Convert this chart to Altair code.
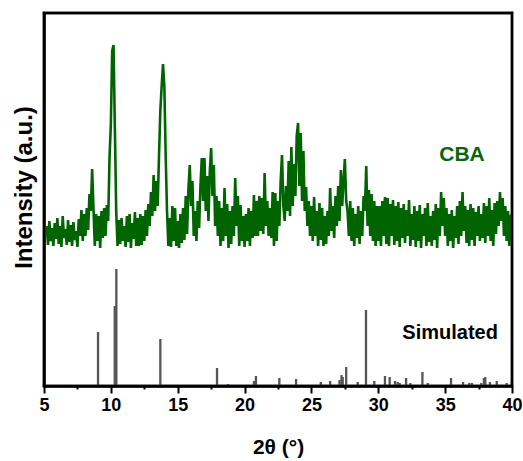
import altair as alt
import pandas as pd

# ---- CBA measured pattern: intensity every 0.1 deg, rows of 1 deg (5.0 ... 40.0)
r05 = [172, 150, 160, 141, 165, 145, 158, 140, 163, 147]
r06 = [168, 142, 160, 139, 170, 148, 157, 141, 166, 144]
r07 = [161, 140, 164, 146, 155, 139, 167, 150, 176, 145]
r08 = [172, 150, 178, 156, 192, 175, 217, 178, 140, 172]
r09 = [145, 170, 138, 175, 148, 178, 150, 181, 165, 228]
r10 = [262, 335, 341, 258, 175, 140, 166, 142, 168, 145]
r11 = [160, 139, 170, 144, 172, 138, 163, 147, 174, 140]
r12 = [168, 140, 172, 141, 170, 145, 176, 150, 182, 160]
r13 = [194, 170, 211, 175, 205, 180, 230, 275, 300, 322]
r14 = [300, 230, 175, 140, 168, 139, 180, 145, 178, 140]
r15 = [165, 138, 172, 143, 178, 146, 190, 152, 197, 221]
r16 = [180, 205, 150, 175, 145, 185, 158, 200, 228, 185]
r17 = [228, 175, 210, 165, 215, 238, 190, 221, 160, 190]
r18 = [150, 185, 140, 178, 145, 198, 150, 182, 138, 175]
r19 = [142, 180, 150, 208, 160, 190, 140, 181, 145, 170]
r20 = [139, 172, 145, 178, 140, 175, 148, 191, 150, 185]
r21 = [150, 190, 155, 188, 152, 213, 160, 185, 150, 178]
r22 = [148, 194, 140, 193, 145, 185, 160, 205, 231, 180]
r23 = [165, 200, 175, 225, 170, 239, 180, 222, 190, 250]
r24 = [263, 200, 253, 185, 235, 175, 199, 160, 185, 150]
r25 = [180, 145, 189, 150, 175, 140, 183, 146, 178, 140]
r26 = [170, 142, 175, 150, 198, 155, 180, 148, 190, 160]
r27 = [200, 165, 216, 180, 205, 227, 185, 175, 150, 185]
r28 = [145, 178, 140, 172, 148, 180, 142, 175, 150, 190]
r29 = [175, 220, 160, 196, 150, 192, 145, 185, 140, 180]
r30 = [145, 180, 140, 185, 150, 189, 142, 188, 140, 182]
r31 = [150, 186, 141, 180, 145, 184, 139, 178, 148, 182]
r32 = [143, 176, 150, 186, 140, 172, 146, 180, 139, 175]
r33 = [145, 181, 138, 172, 150, 178, 140, 183, 144, 170]
r34 = [140, 175, 146, 182, 138, 178, 150, 194, 160, 188]
r35 = [150, 178, 140, 172, 145, 176, 138, 170, 148, 180]
r36 = [142, 185, 150, 194, 155, 180, 143, 176, 140, 182]
r37 = [146, 178, 140, 174, 150, 180, 145, 172, 148, 183]
r38 = [143, 180, 150, 188, 145, 176, 140, 183, 152, 185]
r39 = [160, 194, 165, 188, 150, 180, 145, 175, 140, 170]
r40 = [171]

cba_rows = [r05, r06, r07, r08, r09, r10, r11, r12, r13, r14, r15, r16, r17, r18,
            r19, r20, r21, r22, r23, r24, r25, r26, r27, r28, r29, r30, r31, r32,
            r33, r34, r35, r36, r37, r38, r39, r40]
cba_int = [v for row in cba_rows for v in row]
cba_theta = [round(5 + 0.1 * i, 1) for i in range(len(cba_int))]

# ---- Simulated stick pattern
sim_theta = [9.04, 10.29, 10.41, 13.70, 17.94, 18.76, 20.70, 20.85, 22.60, 23.85,
             25.70, 26.40, 27.10, 27.25, 27.34, 27.60, 28.46, 29.08, 29.70, 30.50,
             30.85, 31.25, 31.45, 31.60, 32.08, 32.40, 33.30, 33.70, 35.44, 36.34,
             36.80, 37.00, 37.70, 37.90, 38.00, 38.35, 38.86, 39.60]
sim_int = [54, 80, 117, 47, 18, 2, 5, 10, 8, 7,
           4, 5, 6, 11, 9, 19, 4, 76, 5, 10,
           9, 5, 4, 3, 8, 3, 14, 3, 8, 4,
           3, 3, 3, 8, 9, 4, 5, 3]

major_ticks = [5, 10, 15, 20, 25, 30, 35, 40]
minor_ticks = [7.5, 12.5, 17.5, 22.5, 27.5, 32.5, 37.5]
x_domain = [5, 40]
y_domain = [0, 373]

# frame bands (top, bottom, left, right), as thin filled boxes along the domain limits
frame_x = [4.91, 4.91, 4.91, 39.91]
frame_x2 = [40.09, 40.09, 5.09, 40.09]
frame_y = [371.8, -1.2, -1.2, -1.2]
frame_y2 = [374.2, 1.2, 374.2, 374.2]

df_cba = pd.DataFrame({"theta": cba_theta, "intensity": cba_int})
df_sim = pd.DataFrame({"theta": sim_theta, "intensity": sim_int})
df_frame = pd.DataFrame({"x": frame_x, "x2": frame_x2, "y": frame_y, "y2": frame_y2})
df_one = pd.DataFrame({"k": [0]})

FONT = "Liberation Sans"
x_scale = alt.Scale(domain=x_domain, nice=False, zero=False)
y_scale = alt.Scale(domain=y_domain, nice=False, zero=False)

cba_line = alt.Chart(df_cba).mark_line(color="#006400", strokeWidth=2.6, clip=True).encode(
    x=alt.X("theta:Q", scale=x_scale,
            axis=alt.Axis(values=major_ticks, title="2θ (°)", orient="bottom",
                          tickSize=7, tickWidth=2, tickColor="black",
                          domain=True, domainColor="black", domainWidth=2.5,
                          labelFlush=False,
                          labelFont=FONT, labelFontSize=18, labelFontWeight="bold",
                          labelColor="black", labelPadding=3,
                          titleFont=FONT, titleFontSize=21, titleFontWeight="bold",
                          titleColor="black", titlePadding=22, grid=False)),
    y=alt.Y("intensity:Q", scale=y_scale,
            axis=alt.Axis(labels=False, ticks=False, title="Intensity (a.u.)", orient="left",
                          domain=True, domainColor="black", domainWidth=2.5,
                          titleFont=FONT, titleFontSize=24, titleFontWeight="bold",
                          titleColor="black", titlePadding=8, titleY=174, grid=False)),
)

sticks = alt.Chart(df_sim).mark_rule(color="#555555", strokeWidth=2.3).encode(
    x=alt.X("theta:Q", scale=x_scale),
    y=alt.Y("intensity:Q", scale=y_scale),
    y2=alt.datum(0),
)

frame_boxes = alt.Chart(df_frame).mark_rect(color="black", opacity=1).encode(
    x=alt.X("x:Q", scale=x_scale),
    x2="x2:Q",
    y=alt.Y("y:Q", scale=y_scale),
    y2="y2:Q",
)

cba_label = alt.Chart(df_one).mark_text(
    text="CBA", font=FONT, fontSize=21, fontWeight="bold", color="#0b650b",
    align="center", baseline="middle").encode(
    x=alt.datum(36.26), y=alt.datum(231))

sim_label = alt.Chart(df_one).mark_text(
    text="Simulated", font=FONT, fontSize=20, fontWeight="bold", color="black",
    align="center", baseline="middle").encode(
    x=alt.datum(35.37), y=alt.datum(53))

main = alt.layer(cba_line, sticks, frame_boxes, cba_label, sim_label)

# minor ticks on the bottom axis
minor = alt.Chart(df_sim).mark_point(opacity=0).encode(
    x=alt.X("theta:Q", scale=x_scale,
            axis=alt.Axis(values=minor_ticks, orient="bottom", labels=False, domain=False,
                          tickSize=3, tickWidth=2, tickColor="black", title=None, grid=False)),
    y=alt.Y("intensity:Q", scale=y_scale),
)

chart = alt.layer(main, minor).resolve_axis(x="independent").properties(
    width=468, height=373,
    autosize=alt.AutoSizeParams(type="none"),
    padding={"left": 44, "top": 13, "right": 11, "bottom": 75},
).configure_view(stroke="black", strokeWidth=2.5)

chart.save("out.html", embed_options={"renderer": "svg", "actions": False})
